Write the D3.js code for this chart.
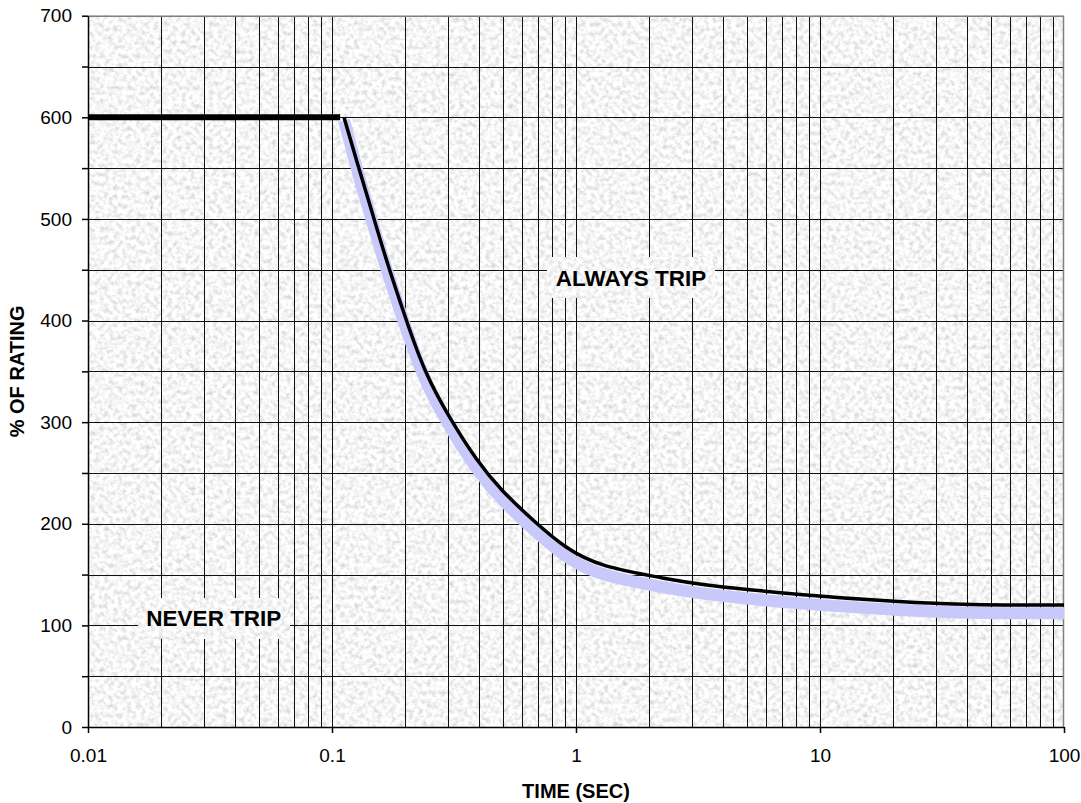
<!DOCTYPE html>
<html>
<head>
<meta charset="utf-8">
<script src="https://cdn.jsdelivr.net/npm/d3@7"></script>
<style>
  body { margin: 0; background: #fff; }
  svg { display: block; font-family: Arial, "Liberation Sans", sans-serif; }
</style>
</head>
<body>
<script>
// Chart size
const width = 1081;
const height = 803;

// Trip curve (upper edge, black line)
const tripTimes = [0.112, 0.128, 0.145, 0.165, 0.199, 0.24, 0.305, 0.392, 0.488, 0.668, 0.915, 1.25, 2.35, 3.22, 8.28, 21.3, 40, 100];
const tripValues = [600, 552, 509, 463, 404, 348, 303, 262, 234, 203, 175, 158, 146, 140, 130, 123, 120, 120];
// Tolerance band (lower edge, lavender line)
const bandValues = [597, 544, 500, 454, 395, 339, 294, 253, 225, 194, 166, 149, 137, 131, 121, 115, 112, 112];
// Instantaneous cap at 600 %
const capTimes = [0.01, 0.108];
const capValues = [600, 600];

// Axis ticks
const xTickLabels = [0.01, 0.1, 1, 10, 100];
const yTicks = d3.range(0, 701, 50);

// Region labels
const regionLabels = [
    { text: "ALWAYS TRIP", t: 1.68, v: 442 },
    { text: "NEVER TRIP", t: 0.0328, v: 107 }
];

const margin = { left: 88, right: 17, top: 15.7, bottom: 76 };

const x = d3.scaleLog().domain([0.01, 100])
    .range([margin.left, width - margin.right]);
const y = d3.scaleLinear().domain([0, 700])
    .range([height - margin.bottom, margin.top]);

const svg = d3.select("body").append("svg")
    .attr("width", width)
    .attr("height", height);

// Granite-like paper texture
const defs = svg.append("defs");
const filter = defs.append("filter").attr("id", "granite")
    .attr("x", 0).attr("y", 0).attr("width", 1).attr("height", 1);
filter.append("feTurbulence")
    .attr("type", "fractalNoise")
    .attr("baseFrequency", 0.22)
    .attr("numOctaves", 3)
    .attr("seed", 7)
    .attr("result", "noise");
filter.append("feColorMatrix")
    .attr("in", "noise")
    .attr("type", "matrix")
    .attr("values", "0.7 0 0 0 0.57  0.7 0 0 0 0.57  0.7 0 0 0 0.57  0 0 0 0 1");

const [x0, x1] = x.range();
const [y0, y1] = y.range();

svg.append("rect")
    .attr("x", x0).attr("y", y1)
    .attr("width", x1 - x0).attr("height", y0 - y1)
    .attr("fill", "#e8e8e8")
    .attr("filter", "url(#granite)");

// Grid lines
const grid = svg.append("g")
    .attr("stroke", "#111")
    .attr("stroke-width", 1)
    .attr("shape-rendering", "crispEdges");

grid.selectAll("line.v")
    .data(x.ticks().filter(d => d > 0.01 && d < 100))
    .join("line")
    .attr("class", "v")
    .attr("x1", d => Math.round(x(d)) + 0.5).attr("x2", d => Math.round(x(d)) + 0.5)
    .attr("y1", y1).attr("y2", y0);

grid.selectAll("line.h")
    .data(yTicks.filter(d => d > 0 && d < 700))
    .join("line")
    .attr("class", "h")
    .attr("x1", x0).attr("x2", x1)
    .attr("y1", d => Math.round(y(d)) + 0.5).attr("y2", d => Math.round(y(d)) + 0.5);

// Top and right border
svg.append("path")
    .attr("d", `M${x0},${y1 + 0.5}H${x1 - 0.5}V${y0}`)
    .attr("fill", "none")
    .attr("stroke", "#808080")
    .attr("stroke-width", 1.5);

// Region labels with their own paper boxes
regionLabels.forEach(lab => {
    const g = svg.append("g")
        .attr("transform", `translate(${x(lab.t)},${y(lab.v)})`);
    const txt = g.append("text")
        .attr("text-anchor", "middle")
        .attr("dy", "0.36em")
        .attr("font-size", 22.5)
        .attr("font-weight", "bold")
        .attr("fill", "#000")
        .text(lab.text);
    const bb = txt.node().getBBox();
    g.insert("rect", "text")
        .attr("x", bb.x - 8).attr("y", -20)
        .attr("width", bb.width + 16).attr("height", 40)
        .attr("fill", "#ececec")
        .attr("filter", "url(#granite)");
});

const line = d3.line()
    .x(d => x(d[0]))
    .y(d => y(d[1]))
    .curve(d3.curveBasis);

// Lavender tolerance band
svg.append("path")
    .datum(d3.zip(tripTimes, bandValues))
    .attr("d", line)
    .attr("fill", "none")
    .attr("stroke", "#c8c8fa")
    .attr("stroke-width", 12)
    .attr("stroke-linejoin", "round");

// Black trip curve
svg.append("path")
    .datum(d3.zip(tripTimes, tripValues))
    .attr("d", line)
    .attr("fill", "none")
    .attr("stroke", "#000")
    .attr("stroke-width", 3.5);

svg.append("path")
    .datum(d3.zip(capTimes, capValues))
    .attr("d", line)
    .attr("fill", "none")
    .attr("stroke", "#000")
    .attr("stroke-width", 6);

// Axes
const yAxis = svg.append("g")
    .attr("transform", `translate(${x0},0)`)
    .call(d3.axisLeft(y)
        .tickValues(yTicks)
        .tickFormat(d => d % 100 === 0 ? d : "")
        .tickSize(6)
        .tickSizeOuter(0)
        .tickPadding(10));

const xAxis = svg.append("g")
    .attr("transform", `translate(0,${y0})`)
    .call(d3.axisBottom(x)
        .tickValues(xTickLabels)
        .tickFormat(d => String(d))
        .tickSize(6)
        .tickSizeOuter(0)
        .tickPadding(16));

[yAxis, xAxis].forEach(ax => {
    ax.selectAll("text")
        .attr("font-size", 19)
        .attr("font-family", "Arial, 'Liberation Sans', sans-serif")
        .attr("fill", "#000");
    ax.selectAll("line, path").attr("stroke", "#000").attr("stroke-width", 1.5);
});

// Axis titles
svg.append("text")
    .attr("x", (x0 + x1) / 2)
    .attr("y", 798)
    .attr("text-anchor", "middle")
    .attr("font-size", 20)
    .attr("font-weight", "bold")
    .text("TIME (SEC)");

svg.append("text")
    .attr("transform", `translate(24,${(y0 + y1) / 2}) rotate(-90)`)
    .attr("text-anchor", "middle")
    .attr("font-size", 20)
    .attr("font-weight", "bold")
    .text("% OF RATING");
</script>
</body>
</html>
